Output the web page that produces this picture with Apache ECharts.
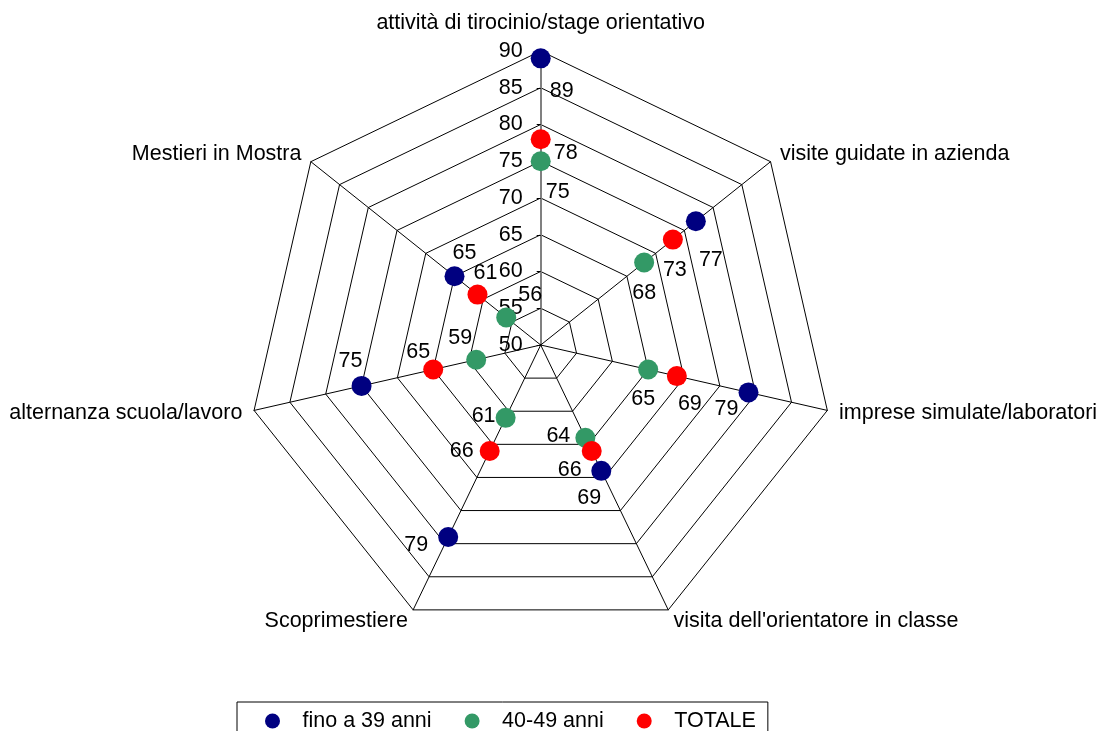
<!DOCTYPE html>
<html>
<head>
<meta charset="utf-8">
<script src="https://cdn.jsdelivr.net/npm/echarts@6/dist/echarts.min.js"></script>
<style>
html,body{margin:0;padding:0;background:#fff;}
#main{width:1112px;height:731px;}
</style>
</head>
<body>
<div id="main"></div>
<script>
// Categories in clockwise order starting at the top
var categories = [
  "attività di tirocinio/stage orientativo",
  "visite guidate in azienda",
  "imprese simulate/laboratori",
  "visita dell'orientatore in classe",
  "Scoprimestiere",
  "alternanza scuola/lavoro",
  "Mestieri in Mostra"
];
var seriesNames = ["fino a 39 anni", "40-49 anni", "TOTALE"];
var fino39 = [89, 77, 79, 69, 79, 75, 65];
var anni4049 = [75, 68, 65, 64, 61, 59, 56];
var totale = [78, 73, 69, 66, 66, 65, 61];
var axisMin = 50, axisMax = 90, axisSteps = 8;

// label offsets (layout only) per series, per category
var labelOffsets = {
  "fino a 39 anni": [[21,33],[15,39],[-22,17],[-12,27],[-32,8],[-11,-25],[10,-23]],
  "40-49 anni":     [[17,31],[0,31],[-5,30],[-27,-2],[-22,-2],[-16,-22],[24,-22]],
  "TOTALE":         [[25,14],[2,30],[13,28],[-22,19],[-28,0],[-15,-17],[8,-22]]
};
var colors = {"fino a 39 anni": "#000080", "40-49 anni": "#339966", "TOTALE": "#FF0000"};
var FONT = "'Liberation Sans', Arial, sans-serif";
var FS = 21.5;
var CX = 540.7, CY = 345, R = 294;

var chart = echarts.init(document.getElementById('main'));
var n = categories.length;
// radar draws indicators counter-clockwise; reorder so the picture reads clockwise
var radarIndicators = [];
for (var k = 0; k < n; k++) {
  var idx = (n - k) % n;
  var ind = {name: categories[idx], min: axisMin, max: axisMax};
  if (k === 0) {
    ind.nameGap = 17;
    ind.axisLabel = {show: true, color: '#000', fontSize: FS, fontFamily: FONT, margin: 18};
    ind.axisLine = {lineStyle: {color: '#808080', width: 2}};
    ind.axisTick = {show: true, length: 4, lineStyle: {color: '#000'}};
  }
  radarIndicators.push(ind);
}

function makeSeries(name, values) {
  return {
    name: name,
    type: 'scatter',
    coordinateSystem: 'polar',
    symbol: 'circle',
    symbolSize: 20,
    itemStyle: {color: colors[name], opacity: 1},
    data: values.map(function (v, i) {
      return {
        value: [v, i],
        label: {offset: labelOffsets[name][i]}
      };
    }),
    label: {
      show: true,
      position: 'inside',
      color: '#000',
      opacity: 1,
      fontSize: FS,
      fontFamily: FONT,
      formatter: function (p) { return p.value[0]; }
    },
    emphasis: {disabled: true},
    z: 3
  };
}

var option = {
  backgroundColor: '#fff',
  animation: false,
  textStyle: {fontFamily: FONT},
  radar: {
    center: [CX, CY],
    radius: R,
    startAngle: 90,
    shape: 'polygon',
    splitNumber: axisSteps,
    indicator: radarIndicators,
    nameGap: 12,
    axisName: {color: '#000', fontSize: FS, fontFamily: FONT},
    splitLine: {lineStyle: {color: '#000', width: 1}},
    splitArea: {show: false},
    axisLine: {lineStyle: {color: '#000', width: 1}},
    axisTick: {show: false},
    axisLabel: {show: false}
  },
  polar: {center: [CX, CY], radius: R},
  angleAxis: {type: 'value', min: 0, max: n, startAngle: 90, clockwise: true, show: false,
    axisLine: {show: false}, axisTick: {show: false}, axisLabel: {show: false}, splitLine: {show: false}},
  radiusAxis: {type: 'value', min: axisMin, max: axisMax, show: false,
    axisLine: {show: false}, axisTick: {show: false}, axisLabel: {show: false}, splitLine: {show: false}},
  legend: {
    data: seriesNames,
    left: 237,
    top: 702,
    orient: 'horizontal',
    icon: 'circle',
    itemWidth: 50,
    itemHeight: 15,
    itemGap: 33,
    padding: [8, 12, 10, 28],
    borderColor: '#000',
    borderWidth: 1,
    textStyle: {color: '#000', fontSize: FS, fontFamily: FONT}
  },
  series: [
    makeSeries(seriesNames[0], fino39),
    makeSeries(seriesNames[1], anni4049),
    makeSeries(seriesNames[2], totale)
  ]
};
chart.setOption(option);
</script>
</body>
</html>
